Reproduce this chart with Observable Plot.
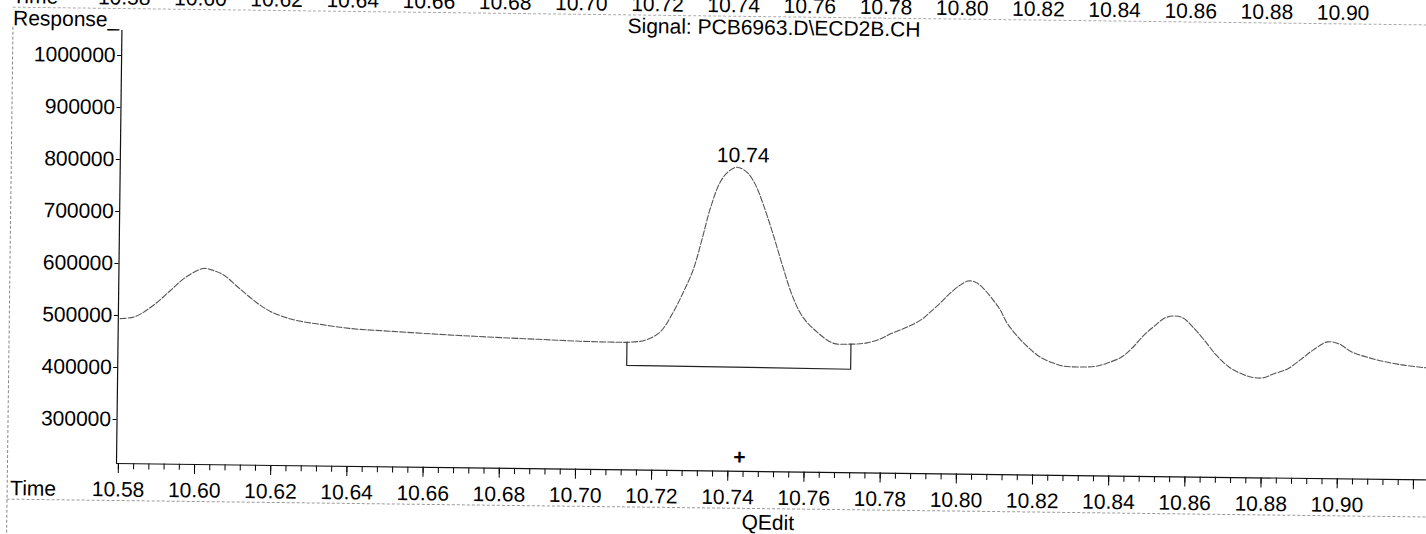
<!DOCTYPE html>
<html>
<head>
<meta charset="utf-8">
<script src="https://cdn.jsdelivr.net/npm/d3@7"></script>
<script src="https://cdn.jsdelivr.net/npm/@observablehq/plot@0.6"></script>
<style>
  html, body { margin: 0; padding: 0; background: white; overflow: hidden; }
  #wrap { position: relative; width: 1426px; height: 534px; transform: rotate(0.72deg); transform-origin: 116px 463px; }
  #wrap svg { display: block; background: transparent !important; }
  .deco { position: absolute; pointer-events: none; }
</style>
</head>
<body>
<div id="wrap"></div>
<script>
// Retention time (min) of the trace samples
const times = [
  10.5800, 10.5806, 10.5840, 10.5886, 10.5931, 10.5970, 10.6017, 10.6043, 10.6072, 10.6109,
  10.6157, 10.6194, 10.6252, 10.6326, 10.6402, 10.6515, 10.6636, 10.6731, 10.6899, 10.7012,
  10.7106, 10.7136, 10.7178, 10.7217, 10.7250, 10.7276, 10.7302, 10.7324, 10.7344, 10.7369,
  10.7390, 10.7414, 10.7440, 10.7461, 10.7483, 10.7510, 10.7538, 10.7565, 10.7592, 10.7630,
  10.7672, 10.7716, 10.7743, 10.7761, 10.7795, 10.7821, 10.7866, 10.7905, 10.7926, 10.7952,
  10.7978, 10.8004, 10.8024, 10.8043, 10.8064, 10.8091, 10.8110, 10.8128, 10.8155, 10.8182,
  10.8216, 10.8251, 10.8277, 10.8329, 10.8366, 10.8393, 10.8430, 10.8460, 10.8488, 10.8515,
  10.8542, 10.8568, 10.8590, 10.8616, 10.8646, 10.8678, 10.8712, 10.8740, 10.8769, 10.8800,
  10.8829, 10.8866, 10.8899, 10.8933, 10.8970, 10.9000, 10.9034, 10.9100, 10.9166, 10.9231
];
// Detector response of the trace samples
const responses = [
  494000, 494300, 498500, 520100, 549400, 574800, 592500, 588900, 579600, 556800,
  528500, 511500, 496700, 487800, 480800, 476100, 471600, 468600, 464400, 461700,
  460700, 461000, 465200, 480900, 517800, 556500, 601000, 658900, 716800, 769000,
  790400, 800200, 790800, 769800, 731600, 674200, 609000, 551600, 513400, 484900,
  464200, 462600, 463600, 465500, 473000, 482900, 496800, 512500, 526200, 543800,
  563200, 578900, 586800, 585100, 573700, 550800, 531800, 507100, 482300, 462400,
  442400, 431200, 425700, 424300, 426500, 432600, 444400, 464000, 487200, 504800,
  520400, 524600, 520900, 503800, 479100, 450700, 427900, 416700, 409300, 407600,
  415600, 425600, 443300, 462800, 478500, 474900, 459800, 445200, 436100, 431000
];
// Integration baseline of the labelled peak (drop lines + baseline)
const baselineTimes = [10.7131, 10.7131, 10.7719, 10.7719];
const baselineResponses = [461000, 416600, 414400, 462600];
// Labelled peak
const peakTimes = [10.7430];
const peakResponses = [800200];
const peakLabels = ["10.74"];
// Axes
const yTicks = [300000, 400000, 500000, 600000, 700000, 800000, 900000, 1000000];
const xTickLabels = ["10.58","10.60","10.62","10.64","10.66","10.68","10.70","10.72","10.74","10.76","10.78","10.80","10.82","10.84","10.86","10.88","10.90"];
const xDomain = [10.5795, 10.9234];
const yDomain = [215385, 1048077];
const signalTitle = "Signal: PCB6963.D\\ECD2B.CH";
const yAxisTitle = "Response_";
const xAxisTitle = "Time";
const footer = "QEdit";

const trace = times.map((t, i) => ({t, r: responses[i]}));
const baseline = baselineTimes.map((t, i) => ({t, r: baselineResponses[i]}));
const peaks = peakTimes.map((t, i) => ({t, r: peakResponses[i], label: peakLabels[i]}));
const majorTicks = d3.range(1058, 1093, 2).map(d => d / 100);
const minorTicks = d3.range(10580, 10924, 4).map(d => d / 1000);
const labelFor = d => { const s = d.toFixed(2); return xTickLabels.includes(s) ? s : ""; };

const chart = Plot.plot({
  width: 1426,
  height: 534,
  marginLeft: 116,
  marginRight: 0,
  marginTop: 30,
  marginBottom: 71,
  style: {fontFamily: "'Liberation Sans', Arial, sans-serif", fontSize: "21px", color: "#000", background: "transparent", overflow: "visible"},
  x: {domain: xDomain},
  y: {domain: yDomain},
  marks: [
    Plot.axisY({ticks: yTicks, tickSize: 4, tickPadding: 2, tickFormat: d3.format("d"), label: null}),
    Plot.axisX({ticks: minorTicks, tickSize: 6, tickFormat: () => "", label: null}),
    Plot.axisX({ticks: majorTicks, tickSize: 10, tickPadding: 8, tickFormat: labelFor, label: null}),
    Plot.axisX({anchor: "top", ticks: majorTicks, tickSize: 0, tickPadding: 26, tickFormat: labelFor, label: null}),
    Plot.ruleX([xDomain[0]], {stroke: "#111", strokeWidth: 1.2}),
    Plot.ruleY([yDomain[0]], {stroke: "#111", strokeWidth: 1.2}),
    Plot.line(trace, {x: "t", y: "r", curve: "catmull-rom", stroke: "#555", strokeWidth: 1.1, strokeDasharray: "6,2"}),
    Plot.line(baseline, {x: "t", y: "r", stroke: "#222", strokeWidth: 1.2}),
    Plot.text(peaks, {x: "t", y: "r", text: "label", lineAnchor: "bottom", dy: -5, fill: "#000"}),
    Plot.text(peaks, {x: "t", frameAnchor: "bottom", text: () => "+", lineAnchor: "middle", dy: -14, fontWeight: "bold"}),
    Plot.text([yAxisTitle], {frameAnchor: "top-left", text: d => d, textAnchor: "start", lineAnchor: "bottom", dx: -109, dy: -4}),
    Plot.text([signalTitle], {frameAnchor: "top", text: d => d, lineAnchor: "bottom", dx: -3, dy: -4}),
    Plot.text([xAxisTitle], {frameAnchor: "bottom-left", text: d => d, textAnchor: "start", lineAnchor: "bottom", dx: -106, dy: 33}),
    Plot.text([xAxisTitle], {frameAnchor: "top-left", text: d => d, textAnchor: "start", lineAnchor: "bottom", dx: -110, dy: -26}),
    Plot.text([footer], {frameAnchor: "bottom", text: d => d, lineAnchor: "bottom", dx: -3, dy: 58})
  ]
});

const wrap = document.getElementById("wrap");
wrap.appendChild(chart);
// scanned-page frame remnants
const decos = [
  "left:7px;top:28px;width:0;height:506px;border-left:1px dashed #888;",
  "left:7px;top:500px;width:1419px;height:0;border-top:1px dashed #999;",
  "left:7px;top:8px;width:1419px;height:0;border-top:1px dashed #aaa;"
];
for (const css of decos) {
  const d = document.createElement("div");
  d.className = "deco";
  d.style.cssText = css;
  wrap.appendChild(d);
}
</script>
</body>
</html>
